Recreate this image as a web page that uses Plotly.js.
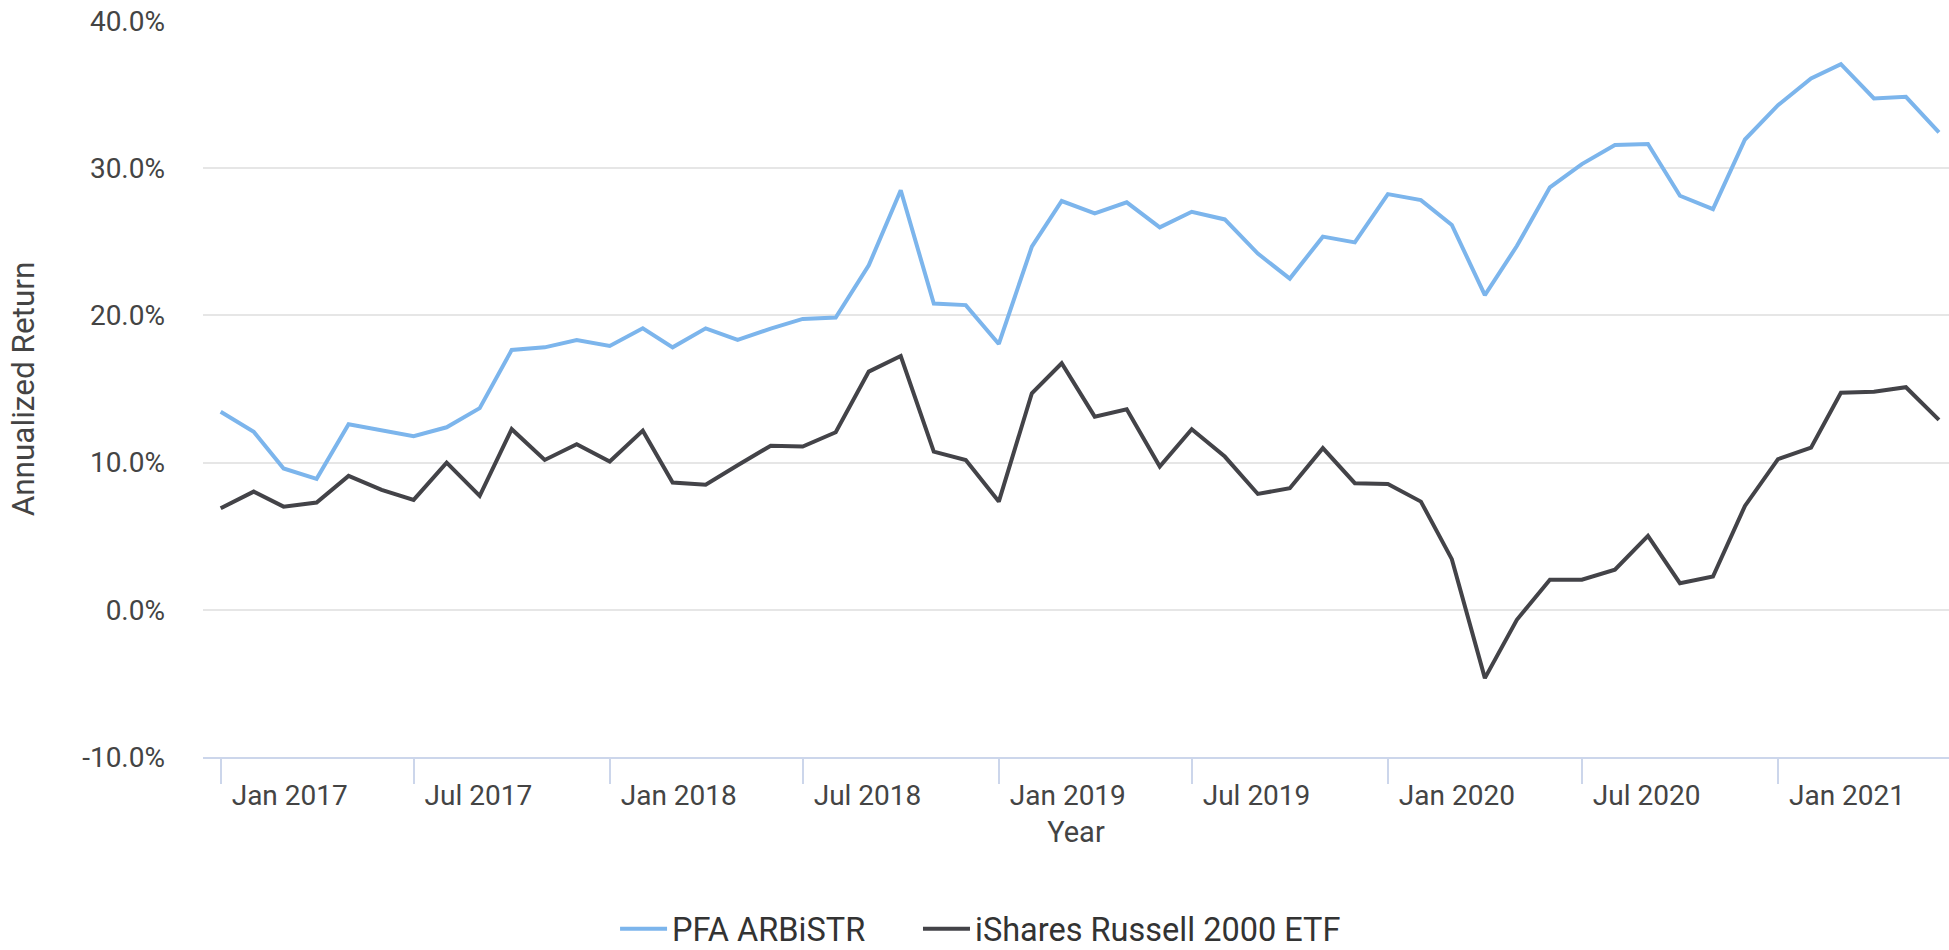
<!DOCTYPE html>
<html>
<head>
<meta charset="utf-8">
<script src="https://cdn.plot.ly/plotly-3.0.1.min.js"></script>
<style>
  html, body { margin: 0; padding: 0; background: #ffffff; }
  #chart { width: 1949px; height: 950px; }
</style>
</head>
<body>
<div id="chart"></div>
<script>
// ---- Data ----
const months = [
  '2017-01-01','2017-02-01','2017-03-01','2017-04-01','2017-05-01','2017-06-01',
  '2017-07-01','2017-08-01','2017-09-01','2017-10-01','2017-11-01','2017-12-01',
  '2018-01-01','2018-02-01','2018-03-01','2018-04-01','2018-05-01','2018-06-01',
  '2018-07-01','2018-08-01','2018-09-01','2018-10-01','2018-11-01','2018-12-01',
  '2019-01-01','2019-02-01','2019-03-01','2019-04-01','2019-05-01','2019-06-01',
  '2019-07-01','2019-08-01','2019-09-01','2019-10-01','2019-11-01','2019-12-01',
  '2020-01-01','2020-02-01','2020-03-01','2020-04-01','2020-05-01','2020-06-01',
  '2020-07-01','2020-08-01','2020-09-01','2020-10-01','2020-11-01','2020-12-01',
  '2021-01-01','2021-02-01','2021-03-01','2021-04-01','2021-05-01','2021-06-01'
];

const seriesNames = ['PFA ARBiSTR', 'iShares Russell 2000 ETF'];

const pfaArbistr = [
  13.46, 12.1, 9.6, 8.9, 12.6, 12.2, 11.8, 12.4, 13.7, 17.65,
  17.83, 18.33, 17.92, 19.12, 17.83, 19.12, 18.33, 19.1, 19.76, 19.85,
  23.4, 28.5, 20.8, 20.7, 18.06, 24.67, 27.77, 26.93, 27.68, 25.98,
  27.04, 26.52, 24.2, 22.5, 25.35, 24.96, 28.24, 27.83, 26.14, 21.38,
  24.71, 28.7, 30.28, 31.57, 31.64, 28.13, 27.22, 31.95, 34.28, 36.09,
  37.07, 34.74, 34.85, 32.43
];

const russell2000 = [
  6.9, 8.03, 7.01, 7.29, 9.1, 8.15, 7.47, 10.0, 7.74, 12.27,
  10.18, 11.25, 10.07, 12.17, 8.64, 8.49, 9.82, 11.15, 11.09, 12.06,
  16.18, 17.24, 10.75, 10.18, 7.35, 14.71, 16.75, 13.12, 13.62, 9.73,
  12.27, 10.41, 7.87, 8.26, 10.98, 8.6, 8.55, 7.35, 3.44, -4.64,
  -0.68, 2.04, 2.04, 2.72, 5.02, 1.81, 2.26, 7.06, 10.23, 11.02,
  14.75, 14.82, 15.12, 12.9
];

const yTickValues = [-10, 0, 10, 20, 30, 40];
const yTickLabels = ['-10.0%', '0.0%', '10.0%', '20.0%', '30.0%', '40.0%'];

const xTitle = 'Year';
const yTitle = 'Annualized Return';

// ---- Chart ----
const FONT = 'Roboto, "Noto Sans", sans-serif';
const TEXT = '#444444';

const traces = [
  {
    type: 'scatter', mode: 'lines', name: seriesNames[0], legend: 'legend',
    x: months, y: pfaArbistr,
    line: { color: '#7cb5ec', width: 4 }
  },
  {
    type: 'scatter', mode: 'lines', name: seriesNames[1], legend: 'legend2',
    x: months, y: russell2000,
    line: { color: '#434348', width: 4 }
  }
];

const legendStyle = {
  orientation: 'h', y: -0.2337, yanchor: 'middle', xanchor: 'left',
  font: { family: FONT, size: 32.5, color: '#333333' },
  itemwidth: 47, bgcolor: 'rgba(0,0,0,0)', borderwidth: 0
};

const layout = {
  width: 1949, height: 950,
  paper_bgcolor: '#ffffff', plot_bgcolor: '#ffffff',
  font: { family: FONT, color: TEXT, size: 28 },
  margin: { l: 203, r: 0, t: 21, b: 193, autoexpand: false },
  showlegend: true,
  legend: Object.assign({}, legendStyle, { x: 0.236 }),
  legend2: Object.assign({}, legendStyle, { x: 0.4095 }),
  xaxis: {
    type: 'date',
    range: ['2016-12-15 10:00', '2021-06-10 10:00'],
    tick0: '2017-01-01', dtick: 'M6', tickformat: '%b %Y',
    ticks: 'outside', ticklen: 25, tickwidth: 2, tickcolor: '#ccd6eb',
    ticklabelposition: 'outside right', ticklabelshift: 9, ticklabelstandoff: 12,
    showline: true, linecolor: '#ccd6eb', linewidth: 2,
    showgrid: false, zeroline: false,
    tickfont: { family: FONT, size: 28, color: TEXT },
    title: { text: xTitle, font: { family: FONT, size: 29, color: TEXT }, standoff: 11 }
  },
  yaxis: {
    range: [-10, 40],
    tickmode: 'array', tickvals: yTickValues, ticktext: yTickLabels,
    ticks: '', ticklabelstandoff: 37,
    showgrid: true, gridcolor: '#e6e6e6', gridwidth: 2,
    zeroline: false, showline: false,
    tickfont: { family: FONT, size: 28, color: TEXT },
    title: { text: yTitle, font: { family: FONT, size: 31.5, color: TEXT }, standoff: 38 }
  }
};

Plotly.newPlot('chart', traces, layout, { displayModeBar: false, staticPlot: true });
</script>
</body>
</html>
